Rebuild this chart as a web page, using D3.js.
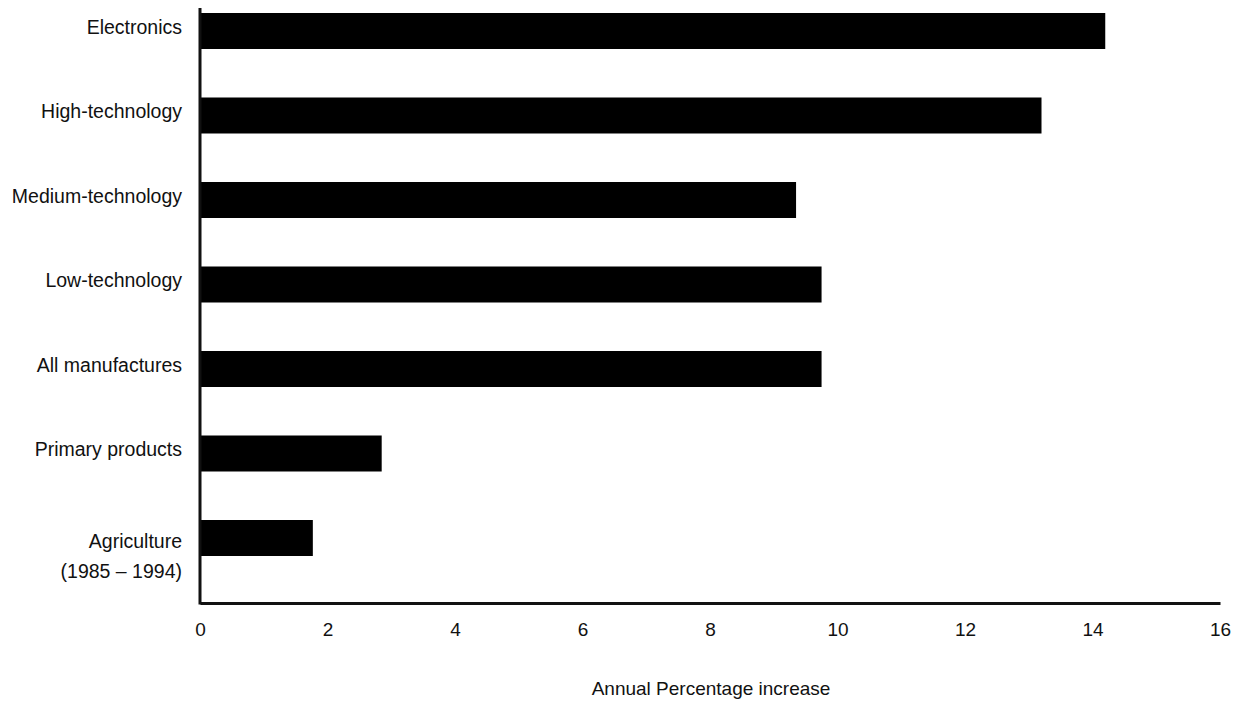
<!DOCTYPE html>
<html>
<head>
<meta charset="utf-8">
<script src="https://cdn.jsdelivr.net/npm/d3@7"></script>
<style>
    body { margin: 0; background: #fff; }
    text { font-family: "Liberation Sans", Arial, sans-serif; fill: #111; }
</style>
</head>
<body>
<div id="chart"></div>
<script>
var categories = [
    "Electronics",
    "High-technology",
    "Medium-technology",
    "Low-technology",
    "All manufactures",
    "Primary products",
    "Agriculture|(1985 \u2013 1994)"
];
var values = [14.2, 13.2, 9.35, 9.75, 9.75, 2.85, 1.77];
var xTicks = [0, 2, 4, 6, 8, 10, 12, 14, 16];
var xTitle = "Annual Percentage increase";

var width = 1247;
var height = 703;

var svg = d3.select("#chart")
    .append("svg")
    .attr("width", width)
    .attr("height", height);

var x = d3.scaleLinear()
    .domain([0, 16])
    .range([200, 1220]);

var y = d3.scalePoint()
    .domain(categories)
    .range([31, 538]);

var barHeight = 36;

// bars
svg.selectAll("rect.bar")
    .data(values)
    .enter().append("rect")
    .attr("class", "bar")
    .attr("fill", "#000")
    .attr("x", x(0))
    .attr("y", function (d, i) { return y(categories[i]) - barHeight / 2; })
    .attr("width", function (d) { return x(d) - x(0); })
    .attr("height", barHeight);

// x axis
var xAxis = svg.append("g")
    .attr("transform", "translate(0,603)")
    .call(d3.axisBottom(x).tickValues(xTicks).tickSize(0).tickPadding(20));
xAxis.select(".domain")
    .attr("stroke", "#111")
    .attr("stroke-width", 3);
xAxis.selectAll("text")
    .attr("font-size", "19px")
    .attr("font-family", "'Liberation Sans', Arial, sans-serif")
    .attr("fill", "#111");

// vertical axis line
svg.append("line")
    .attr("x1", x(0)).attr("x2", x(0))
    .attr("y1", 8).attr("y2", 604.5)
    .attr("stroke", "#111")
    .attr("stroke-width", 3);

// category labels
var yAxis = svg.append("g")
    .attr("transform", "translate(182,0)")
    .call(d3.axisLeft(y).tickSize(0).tickPadding(0).tickFormat(""));
yAxis.select(".domain").remove();

yAxis.selectAll(".tick")
    .append("text")
    .attr("text-anchor", "end")
    .attr("font-size", "19.5px")
    .attr("fill", "#111")
    .each(function (d) {
        var parts = d.split("|");
        var t = d3.select(this);
        parts.forEach(function (p, i) {
            t.append("tspan")
                .attr("x", 0)
                .attr("y", i === 0 ? (parts.length > 1 ? 9 : 2) : 39)
                .text(p);
        });
    });

// axis title
svg.append("text")
    .attr("x", 711)
    .attr("y", 695)
    .attr("text-anchor", "middle")
    .attr("font-size", "19px")
    .text(xTitle);
</script>
</body>
</html>
